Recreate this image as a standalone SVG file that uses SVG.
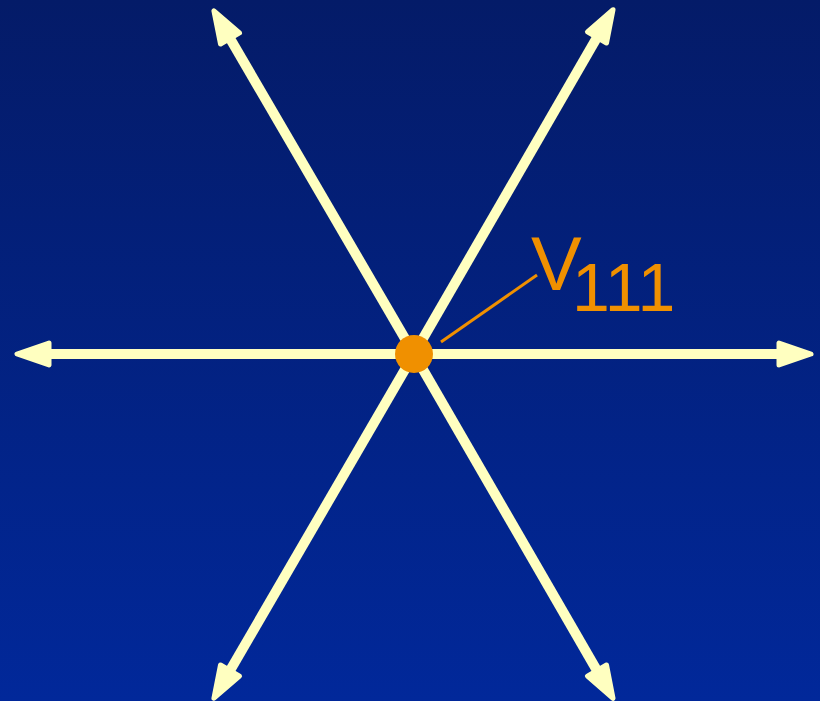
<svg xmlns="http://www.w3.org/2000/svg" width="820" height="701" viewBox="0 0 820 701">
<defs>
<linearGradient id="bg" x1="0" y1="0" x2="0" y2="1">
<stop offset="0" stop-color="#041b68"/>
<stop offset="1" stop-color="#01289a"/>
</linearGradient>
<marker id="ah" markerUnits="userSpaceOnUse" markerWidth="60" markerHeight="40" viewBox="-20 -20 60 40" refX="0" refY="0" orient="auto">
<path d="M28,0 L-4,-11 L-4,11 Z" fill="#ffffc0" stroke="#ffffc0" stroke-width="5" stroke-linejoin="round"/>
</marker>
</defs>
<style>
.ray{stroke:#ffffc0;stroke-width:10;fill:none;marker-end:url(#ah)}
.lbl{font-family:"Liberation Sans",Arial,sans-serif;fill:#f09000}
</style>
<rect width="820" height="701" fill="url(#bg)"/>
<g id="connectors">
<line class="ray" x1="414" y1="354" x2="45" y2="354"/>
<line class="ray" x1="414" y1="354" x2="783" y2="354"/>
<line class="ray" x1="414" y1="354" x2="228" y2="35"/>
<line class="ray" x1="414" y1="354" x2="599" y2="34"/>
<line class="ray" x1="414" y1="354" x2="228" y2="674"/>
<line class="ray" x1="414" y1="354" x2="599" y2="674"/>
</g>
<g id="node-v111">
<line x1="441" y1="342" x2="537" y2="275" stroke="#f09000" stroke-width="3"/>
<circle cx="414" cy="354" r="19" fill="#f09000"/>
<text class="lbl" x="531" y="290" font-size="76">V</text>
<text class="lbl" x="572" y="311" font-size="68">111</text>
</g>
</svg>
